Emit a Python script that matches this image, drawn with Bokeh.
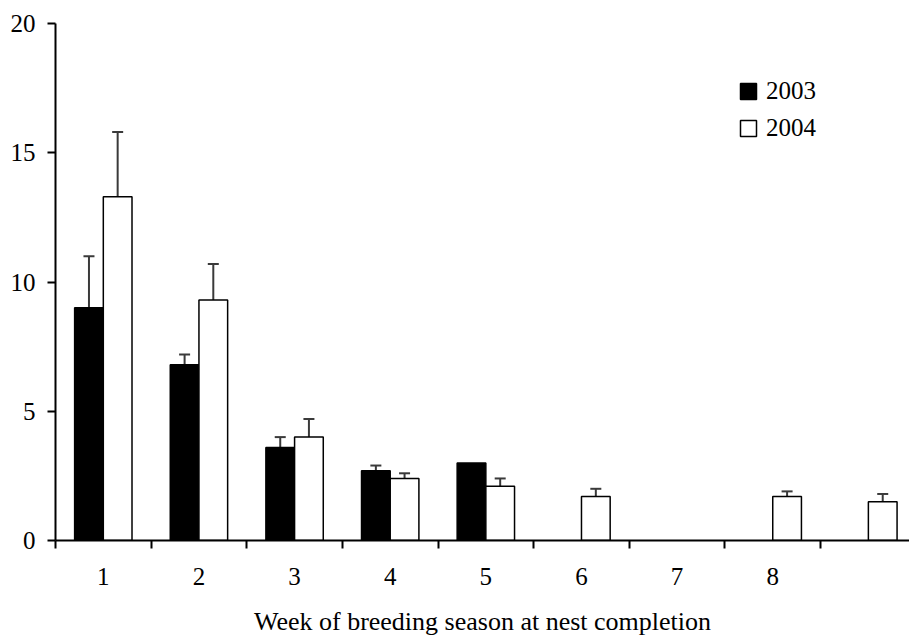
from bokeh.plotting import figure
from bokeh.models import ColumnDataSource, FixedTicker, Whisker, TeeHead, Legend, LegendItem, Range1d
from bokeh.embed import file_html
from bokeh.resources import INLINE

# ---- data ----
weeks = [1, 2, 3, 4, 5, 6, 7, 8, 9]
week_labels = ["1", "2", "3", "4", "5", "6", "7", "8", ""]
series = ["2003", "2004"]
vals_2003 = [9.0, 6.8, 3.6, 2.7, 3.0, None, None, None, None]
err_2003 = [2.0, 0.4, 0.4, 0.2, 0.0, None, None, None, None]
vals_2004 = [13.3, 9.3, 4.0, 2.4, 2.1, 1.7, None, 1.7, 1.5]
err_2004 = [2.5, 1.4, 0.7, 0.2, 0.3, 0.3, None, 0.2, 0.3]
y_ticks = [0, 5, 10, 15, 20]

FONT = "Liberation Serif"
bar_w = 0.3

def build(vals, errs, offset):
    xs, tops, xe, lo, hi = [], [], [], [], []
    for w, v, e in zip(weeks, vals, errs):
        if v is None:
            continue
        x = (w - 1) + offset
        xs.append(x); tops.append(v)
        if e:
            xe.append(x); lo.append(v); hi.append(v + e)
    return (ColumnDataSource(dict(x=xs, top=tops)),
            ColumnDataSource(dict(x=xe, lower=lo, upper=hi)))

p = figure(width=909, height=639, output_backend="svg", toolbar_location=None,
           min_border_left=55, min_border_right=0, min_border_top=23, min_border_bottom=99)
p.x_range = Range1d(0, 8.93)
p.y_range = Range1d(0, 20)
p.outline_line_color = None
p.grid.grid_line_color = None
p.background_fill_color = "white"

b03, e03 = build(vals_2003, err_2003, 0.35)
b04, e04 = build(vals_2004, err_2004, 0.65)

r03 = p.vbar(x="x", top="top", width=bar_w, source=b03, fill_color="black",
             line_color="black", line_width=1.5)
r04 = p.vbar(x="x", top="top", width=bar_w, source=b04, fill_color="white",
             line_color="black", line_width=1.5)

for src in (e03, e04):
    wk = Whisker(source=src, base="x", lower="lower", upper="upper", dimension="height",
                 line_color="#3a3a3a", line_width=2, lower_head=None,
                 upper_head=TeeHead(size=11, line_color="#3a3a3a", line_width=2))
    p.add_layout(wk)

# x axis: labels at group centres, tick marks at group boundaries
xa = p.xaxis[0]
centers = [w - 0.5 for w, l in zip(weeks, week_labels) if l]
xa.ticker = FixedTicker(ticks=centers, minor_ticks=[w - 1 for w in weeks] + [weeks[-1]])
xa.major_label_overrides = {w - 0.5: l for w, l in zip(weeks, week_labels) if l}
xa.major_tick_line_color = None
xa.major_tick_out = 0
xa.major_tick_in = 0
xa.minor_tick_out = 8
xa.minor_tick_in = 0
xa.minor_tick_line_color = "black"
xa.minor_tick_line_width = 2
xa.axis_line_color = "black"
xa.axis_line_width = 2
xa.major_label_standoff = 19
xa.major_label_text_font = FONT
xa.major_label_text_font_size = "25px"
xa.major_label_text_color = "black"
xa.axis_label = "Week of breeding season at nest completion"
xa.axis_label_text_font = FONT
xa.axis_label_text_font_size = "26px"
xa.axis_label_text_font_style = "normal"
xa.axis_label_text_color = "black"
xa.axis_label_standoff = 19

ya = p.yaxis[0]
ya.ticker = FixedTicker(ticks=y_ticks)
ya.minor_tick_line_color = None
ya.major_tick_out = 8
ya.major_tick_in = 0
ya.major_tick_line_width = 2
ya.major_tick_line_color = "black"
ya.axis_line_width = 2
ya.axis_line_color = "black"
ya.major_label_standoff = 12
ya.major_label_text_font = FONT
ya.major_label_text_font_size = "25px"
ya.major_label_text_color = "black"

legend = Legend(items=[LegendItem(label=series[0], renderers=[r03]),
                       LegendItem(label=series[1], renderers=[r04])],
                location=(683, 398), orientation="vertical",
                padding=0, margin=0, spacing=9, glyph_width=20, glyph_height=20,
                label_height=20, label_standoff=8,
                label_text_font=FONT, label_text_font_size="25px", label_text_color="black",
                border_line_color=None, background_fill_alpha=0)
p.add_layout(legend)

open("out.html", "w").write(file_html(p, INLINE))
